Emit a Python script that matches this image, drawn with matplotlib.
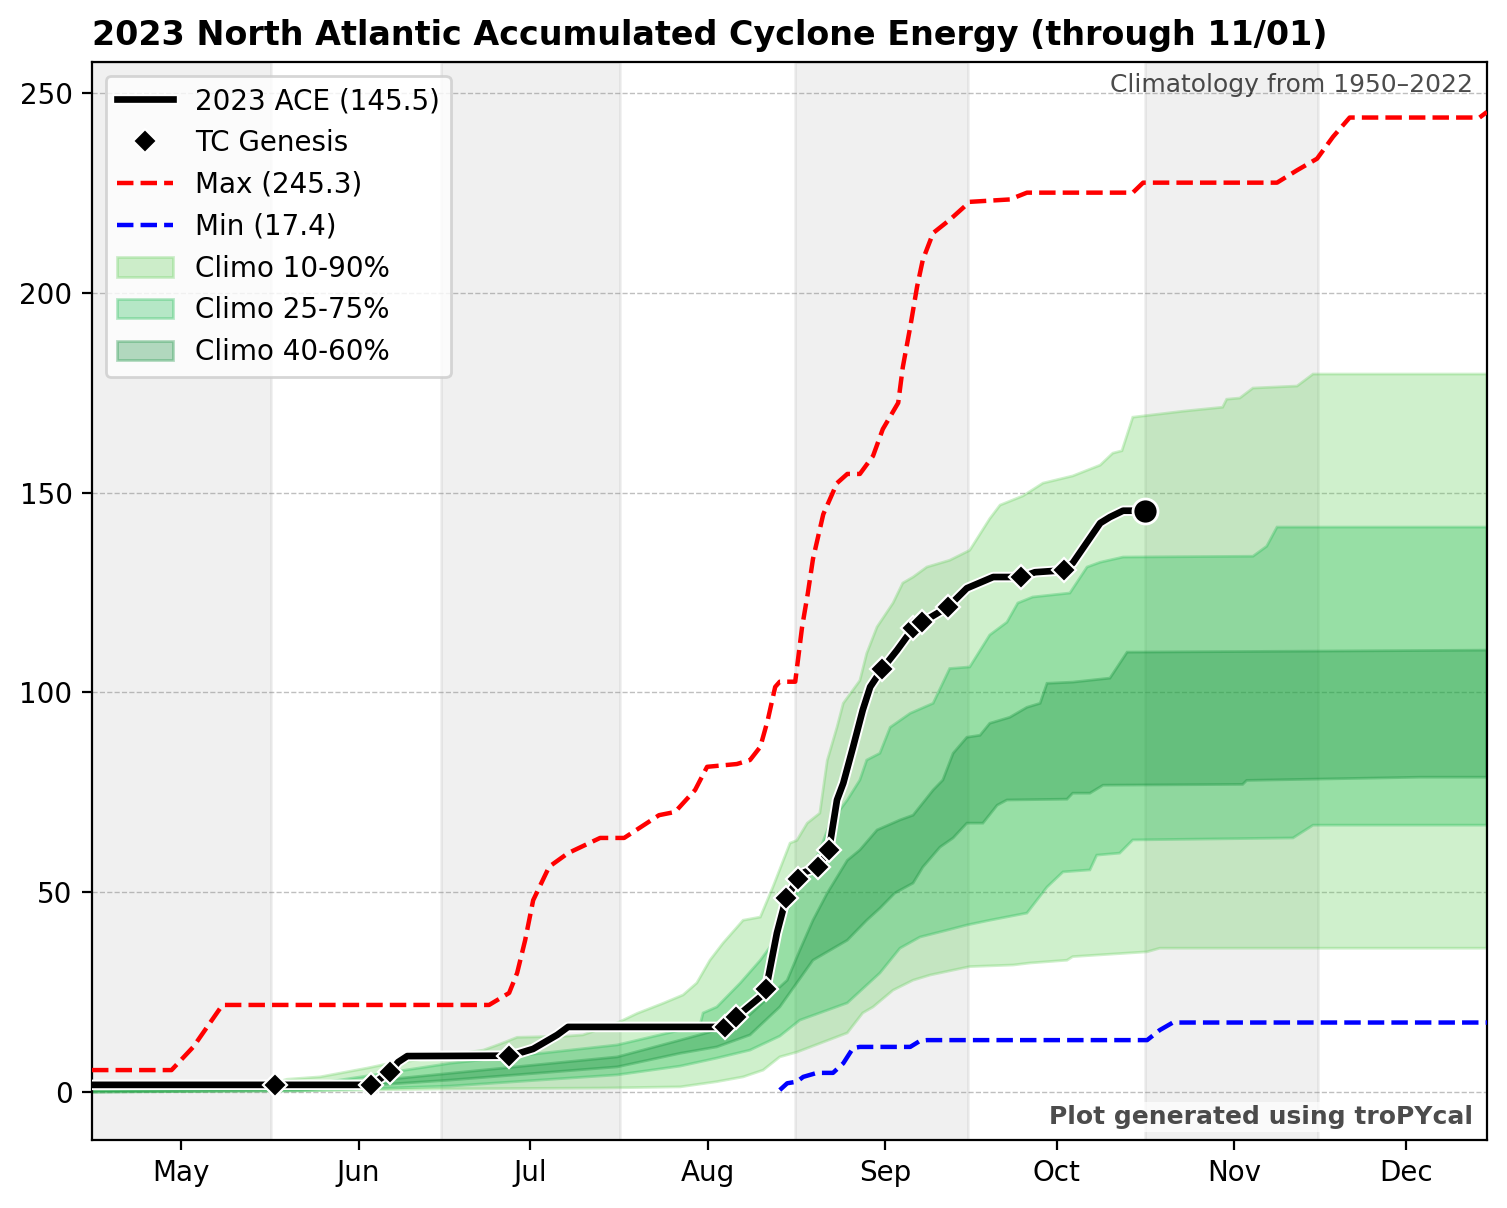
import numpy as np
import matplotlib
matplotlib.use("Agg")
import matplotlib.pyplot as plt
import matplotlib.patheffects as pe

# x values are day of year (non-leap year)
month_days = [121, 152, 182, 213, 244, 274, 305, 335]
month_names = ["May", "Jun", "Jul", "Aug", "Sep", "Oct", "Nov", "Dec"]
shade_spans = [(100, 136.7), (166.4, 197.7), (228.3, 258.5), (289.4, 319.6)]

# 2023 ACE
ace_day = [105.4, 137.3, 154.2, 157.5, 158.9, 160.5, 178.3, 180.2, 182.5, 186.7, 188.6,
           216.0, 218.0, 222.2, 223.2, 225.1, 226.7, 228.8, 229.9, 232.3, 234.2, 235.6,
           236.7, 238.4, 240.1, 241.4, 243.5, 246.1, 248.9, 250.5, 255.0, 258.3, 262.9,
           267.8, 270.2, 275.3, 276.8, 281.6, 283.3, 285.6, 289.4]
ace_val = [1.8, 1.8, 1.8, 5.0, 7.5, 9.0, 9.1, 9.8, 10.8, 14.3, 16.3,
           16.3, 18.8, 23.8, 25.8, 39.8, 48.5, 53.3, 55.0, 56.3, 60.6, 73.1,
           77.3, 86.3, 95.6, 101.4, 105.9, 110.6, 116.1, 117.6, 121.4, 126.1, 128.9,
           128.9, 130.1, 130.6, 132.4, 142.4, 143.9, 145.5, 145.5]

# TC genesis points
gen_day = [137.3, 154.2, 157.5, 178.3, 216.0, 218.0, 223.2, 226.7, 228.8, 232.3, 234.2,
           243.5, 248.9, 250.5, 255.0, 267.8, 275.3]
gen_val = [1.8, 1.8, 5.0, 9.1, 16.3, 18.8, 25.8, 48.5, 53.3, 56.3, 60.6,
           105.9, 116.1, 117.6, 121.4, 128.9, 130.6]

# climatological max / min
max_day = [105.4, 119.3, 123.1, 128.2, 174.8, 178.3, 179.7, 181.1, 182.5, 185.3, 188.6,
           194.2, 198.4, 204.5, 207.3, 210.8, 212.9, 218.1, 220.4, 222.2, 223.5, 224.8,
           225.6, 228.3, 229.5, 230.5, 231.4, 233.2, 235.6, 237.4, 239.6, 241.9, 243.6,
           246.3, 247.1, 248.4, 249.6, 250.6, 252.4, 255.3, 258.8, 265.8, 268.8, 287.3,
           289.1, 312.5, 316.0, 319.5, 322.3, 325.2, 347.9, 349.2]
max_val = [5.5, 5.5, 11.3, 21.8, 21.8, 24.8, 29.8, 38.0, 48.0, 56.4, 59.8,
           63.6, 63.6, 69.3, 70.1, 75.6, 81.4, 82.1, 83.1, 86.4, 93.1, 101.4,
           102.7, 102.7, 116.4, 124.8, 133.4, 144.6, 152.4, 154.7, 154.7, 159.2, 165.9,
           172.5, 181.4, 191.5, 201.6, 208.3, 215.0, 218.3, 222.8, 223.4, 225.1, 225.1,
           227.6, 227.6, 230.7, 233.6, 239.1, 243.9, 243.9, 245.3]
min_day = [225.6, 226.9, 228.6, 229.7, 232.1, 234.9, 236.7, 238.4, 239.6, 248.4, 250.1,
           251.3, 289.8, 292.0, 294.3, 349.2]
min_val = [0.5, 2.2, 2.6, 3.8, 4.8, 4.8, 7.2, 11.0, 11.3, 11.3, 12.8,
           13.0, 13.0, 15.5, 17.4, 17.4]

# percentiles
p10_day = [105.4, 141.8, 168.0, 194.2, 208.2, 214.6, 219.2, 222.7, 225.6, 228.6, 237.4,
           240.1, 241.9, 245.4, 248.9, 251.9, 258.8, 266.4, 269.3, 275.8, 276.8, 289.8,
           292.0, 349.2]
p10_val = [0.0, 0.3, 0.8, 1.0, 1.3, 2.6, 3.8, 5.5, 8.8, 10.0, 14.8,
           19.8, 21.3, 25.5, 28.0, 29.3, 31.4, 31.8, 32.3, 33.0, 33.9, 35.1,
           36.0, 36.0]
p25_day = [105.4, 141.8, 168.0, 197.2, 208.2, 214.6, 220.4, 225.6, 229.1, 237.4, 243.1,
           246.6, 250.1, 254.8, 258.3, 262.3, 268.8, 272.3, 275.1, 279.8, 281.0, 285.0,
           287.3, 315.3, 318.8, 349.2]
p25_val = [0.0, 0.3, 1.5, 4.3, 6.5, 8.5, 10.5, 14.0, 18.0, 22.3, 29.8,
           36.0, 38.8, 40.5, 41.8, 43.0, 44.8, 51.3, 55.1, 55.6, 59.3, 59.8,
           63.1, 63.6, 66.8, 66.8]
p40_day = [105.4, 141.8, 168.0, 197.2, 208.2, 214.6, 220.4, 225.6, 231.4, 237.4, 240.8,
           243.1, 245.7, 248.9, 250.6, 253.6, 255.9, 258.3, 261.1, 263.6, 265.3, 275.8,
           276.8, 279.8, 282.1, 306.5, 307.2, 337.5, 349.2]
p40_val = [0.0, 0.5, 3.0, 6.3, 9.7, 11.3, 14.3, 21.3, 33.0, 38.0, 43.0,
           46.0, 49.8, 52.3, 56.3, 61.3, 63.6, 67.3, 67.3, 71.8, 73.1, 73.3,
           74.8, 74.8, 76.8, 77.0, 78.0, 78.8, 78.8]
p60_day = [105.4, 141.8, 168.0, 197.2, 208.2, 214.6, 219.9, 226.9, 229.1, 231.4, 233.9,
           237.4, 239.6, 242.6, 246.6, 248.9, 252.4, 254.1, 255.9, 258.3, 260.6, 262.3,
           265.8, 268.8, 271.1, 272.3, 276.8, 283.3, 286.3, 349.2]
p60_val = [0.2, 1.0, 4.7, 8.8, 13.0, 15.5, 18.8, 28.0, 35.5, 43.0, 49.8,
           58.0, 60.6, 65.6, 68.1, 69.3, 75.6, 78.1, 84.8, 88.8, 89.3, 92.3,
           93.8, 96.3, 97.3, 102.3, 102.6, 103.6, 110.1, 110.6]
p75_day = [105.4, 141.8, 168.0, 197.2, 208.2, 211.7, 212.2, 214.6, 218.7, 222.2, 224.4,
           226.9, 228.6, 230.4, 232.6, 234.4, 237.4, 239.6, 240.8, 243.1, 244.9, 246.6,
           248.4, 252.4, 255.3, 258.8, 262.3, 265.3, 267.2, 269.8, 276.3, 279.3, 281.6,
           285.6, 308.3, 310.7, 312.5, 349.2]
p75_val = [0.3, 1.5, 7.2, 11.8, 15.5, 17.0, 19.8, 21.3, 27.3, 33.0, 37.3,
           45.5, 49.8, 53.8, 60.6, 67.3, 73.1, 78.1, 83.1, 84.8, 91.3, 93.0,
           94.8, 97.3, 106.0, 106.4, 114.4, 117.6, 122.4, 123.9, 124.9, 131.4, 132.6,
           133.9, 134.1, 136.6, 141.4, 141.4]
p90_day = [105.4, 124.3, 136.5, 139.5, 145.3, 153.5, 157.5, 162.2, 173.8, 176.7, 179.7,
           188.4, 191.2, 197.2, 200.7, 205.2, 208.7, 211.1, 213.4, 215.7, 219.2, 222.2,
           224.4, 227.4, 228.6, 230.4, 232.6, 233.9, 235.6, 236.7, 239.6, 240.8, 242.6,
           245.4, 247.1, 248.9, 251.3, 255.3, 258.8, 262.3, 264.1, 268.1, 271.6, 276.8,
           281.6, 283.8, 285.4, 287.3, 296.1, 303.0, 303.7, 306.0, 308.3, 316.0, 318.8,
           349.2]
p90_val = [0.3, 0.3, 2.0, 3.2, 3.8, 6.0, 7.2, 8.0, 10.5, 12.0, 13.7,
           14.0, 14.3, 17.3, 19.7, 22.2, 24.3, 27.3, 33.0, 37.3, 43.0, 43.8,
           51.3, 62.3, 63.0, 67.3, 69.8, 83.0, 91.3, 97.3, 103.0, 109.8, 116.4,
           122.4, 127.4, 128.9, 131.4, 133.1, 135.6, 143.5, 146.9, 149.2, 152.4, 154.2,
           156.9, 159.9, 160.5, 168.9, 170.4, 171.4, 173.4, 173.7, 176.2, 176.7, 179.7,
           179.7]

fig = plt.figure(figsize=(7.535, 6.04), dpi=200)
ax = fig.add_axes([92/1507, 1 - 1140/1208, 1395/1507, 1078/1208])

for a, b in shade_spans:
    ax.axvspan(a, b, color="k", alpha=0.06, zorder=0)

ax.grid(axis="y", ls="--", lw=0.5, color="gray", alpha=0.5, zorder=1)


def band(xlo, ylo, xhi, yhi, color, label):
    xs = np.concatenate([xhi, xlo[::-1]])
    ys = np.concatenate([yhi, ylo[::-1]])
    ax.fill(xs, ys, color=color, alpha=0.3, lw=1, label=label, zorder=2)


band(p10_day, p10_val, p90_day, p90_val, "#60ce56", "Climo 10-90%")
band(p25_day, p25_val, p75_day, p75_val, "#16b94d", "Climo 25-75%")
band(p40_day, p40_val, p60_day, p60_val, "#068a32", "Climo 40-60%")

ax.plot(max_day, max_val, "--", color="r", lw=1.6, label="Max (245.3)", zorder=3)
ax.plot(min_day, min_val, "--", color="b", lw=1.6, label="Min (17.4)", zorder=3)

ax.plot(ace_day, ace_val, color="k", lw=2.4, label="2023 ACE (145.5)", zorder=5,
        path_effects=[pe.Stroke(linewidth=3.8, foreground="white"), pe.Normal()])
ax.plot(gen_day, gen_val, "D", color="k", ms=6, mec="w", mew=0.8, ls="none",
        label="TC Genesis", zorder=6)
ax.plot(ace_day[-1], ace_val[-1], "o", color="k", ms=9, mec="w", mew=1, zorder=7)

ax.set_xlim(105.4, 349.2)
ax.set_ylim(-12, 257.8)
ax.set_xticks(month_days)
ax.set_xticklabels(month_names)
ax.set_yticks([0, 50, 100, 150, 200, 250])

h, l = ax.get_legend_handles_labels()
order = ["2023 ACE (145.5)", "TC Genesis", "Max (245.3)", "Min (17.4)",
         "Climo 10-90%", "Climo 25-75%", "Climo 40-60%"]
hd = dict(zip(l, h))
ax.legend([hd[k] for k in order], order, loc="upper left", fontsize=10)

ax.set_title("2023 North Atlantic Accumulated Cyclone Energy (through 11/01)",
             loc="left", fontweight="bold", fontsize=12)
ax.text(0.99, 0.99, "Climatology from 1950\u20132022", transform=ax.transAxes,
        ha="right", va="top", fontsize=9, color="k", alpha=0.7)
ax.text(0.99, 0.01, "Plot generated using troPYcal", transform=ax.transAxes,
        ha="right", va="bottom", fontsize=9, fontweight="bold", color="k", alpha=0.7,
        bbox=dict(facecolor="white", edgecolor="none", alpha=0.7, pad=1))

fig.savefig("out.png", dpi=200)
